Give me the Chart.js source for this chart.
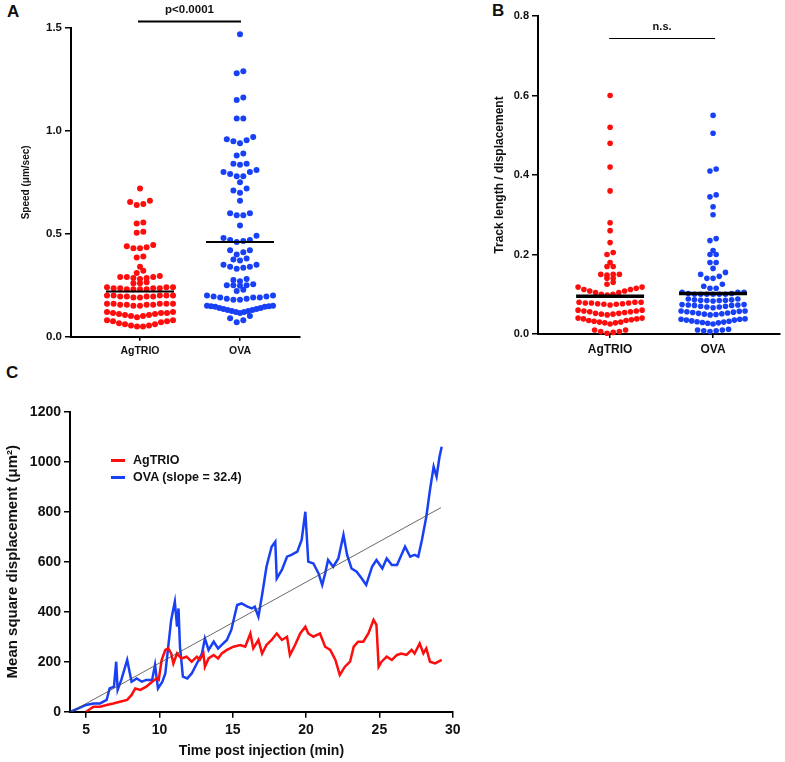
<!DOCTYPE html>
<html>
<head>
<meta charset="utf-8">
<script src="https://cdn.jsdelivr.net/npm/chart.js@4.4.1/dist/chart.umd.min.js"></script>
<style>
  body { margin: 0; background: #fff; width: 785px; height: 762px; position: relative; overflow: hidden;
         font-family: 'Liberation Sans', Arial, sans-serif; }
  canvas { position: absolute; }
  .lbl { position: absolute; font-weight: bold; color: #111; line-height: 1; white-space: nowrap; }
  .swatch { position: absolute; height: 3px; width: 14px; }
</style>
</head>
<body>
<div class="lbl" style="left:7px;top:3px;font-size:17px">A</div>
<div class="lbl" style="left:492px;top:2px;font-size:17px">B</div>
<div class="lbl" style="left:6px;top:364px;font-size:17px">C</div>

<canvas id="chartA" width="310" height="365" style="left:0;top:0"></canvas>
<canvas id="chartB" width="305" height="365" style="left:480px;top:0"></canvas>
<canvas id="chartC" width="470" height="397" style="left:0;top:365px"></canvas>

<div class="swatch" style="left:111px;top:459px;background:rgb(255,12,12)"></div>
<div class="lbl" style="left:133px;top:454px;font-size:12.5px">AgTRIO</div>
<div class="swatch" style="left:111px;top:476px;background:rgb(24,64,245)"></div>
<div class="lbl" style="left:133px;top:471px;font-size:12.5px">OVA (slope = 32.4)</div>

<script>
// Global variables
var FONT = "'Liberation Sans', Arial, sans-serif";
var RED = 'rgb(255,12,12)';
var BLUE = 'rgb(24,64,245)';

var groups = ['AgTRIO', 'OVA'];

// Panel A: speed (um/sec)
var speedAgTRIO = [
  0.72,
  0.66, 0.655, 0.645, 0.64,
  0.555, 0.55, 0.51, 0.505,
  0.445, 0.44, 0.435, 0.43, 0.43,
  0.39, 0.385,
  0.34,
  0.32, 0.31,
  0.295, 0.29, 0.29, 0.29, 0.285, 0.285, 0.28,
  0.265, 0.26, 0.26,
  0.24, 0.24, 0.235, 0.235, 0.235, 0.23, 0.23, 0.23, 0.23, 0.235, 0.24,
  0.2, 0.2, 0.2, 0.195, 0.195, 0.195, 0.19, 0.19, 0.195, 0.2, 0.2,
  0.16, 0.16, 0.16, 0.155, 0.155, 0.15, 0.15, 0.155, 0.155, 0.16, 0.16,
  0.12, 0.12, 0.115, 0.115, 0.11, 0.105, 0.1, 0.095, 0.1, 0.105, 0.11, 0.115,
  0.08, 0.08, 0.075, 0.075, 0.07, 0.065, 0.06, 0.055, 0.05, 0.05, 0.055, 0.06
];
var speedOVA = [
  1.47,
  1.29, 1.28,
  1.162, 1.15,
  1.06, 1.06,
  0.97, 0.96, 0.955, 0.95, 0.94,
  0.89, 0.88,
  0.84, 0.84, 0.835,
  0.81, 0.8, 0.8, 0.79, 0.78, 0.78,
  0.75,
  0.72, 0.71, 0.70,
  0.66,
  0.60, 0.60, 0.59, 0.59,
  0.54,
  0.49, 0.48, 0.47, 0.47, 0.465, 0.46,
  0.42, 0.42, 0.41, 0.40,
  0.38, 0.375, 0.37,
  0.35, 0.35, 0.34, 0.34, 0.335, 0.33,
  0.28, 0.275, 0.27,
  0.255, 0.25, 0.25, 0.25, 0.248,
  0.228, 0.222,
  0.2, 0.2, 0.195, 0.19, 0.19, 0.185, 0.185, 0.18, 0.18, 0.19, 0.195,
  0.15, 0.15, 0.148, 0.148, 0.145, 0.145, 0.14, 0.14, 0.135, 0.135, 0.13, 0.13, 0.125, 0.125, 0.12, 0.12, 0.115,
  0.1, 0.09, 0.08, 0.07
];
var speedMeans = [0.22, 0.46];
var speedTicks = [0, 0.5, 1.0, 1.5];

// Panel B: track length / displacement
var ratioAgTRIO = [
  0.60, 0.52, 0.48, 0.42, 0.36, 0.28, 0.26, 0.23, 0.205, 0.20,
  0.18, 0.17, 0.17,
  0.15, 0.15, 0.15, 0.148, 0.14, 0.14, 0.13, 0.125,
  0.118, 0.118, 0.115, 0.112, 0.108, 0.104, 0.1, 0.098, 0.1, 0.104, 0.108, 0.112,
  0.08, 0.078, 0.078, 0.076, 0.075, 0.073, 0.075, 0.076, 0.078, 0.08, 0.08,
  0.06, 0.06, 0.058, 0.056, 0.054, 0.052, 0.05, 0.048, 0.05, 0.052, 0.056, 0.058,
  0.04, 0.04, 0.038, 0.036, 0.034, 0.032, 0.03, 0.028, 0.025, 0.028, 0.03, 0.034, 0.038,
  0.01, 0.006, 0.004, 0.002, 0.006, 0.01
];
var ratioOVA = [
  0.55, 0.505, 0.415, 0.41, 0.35, 0.345, 0.32, 0.30, 0.24, 0.235,
  0.21, 0.2, 0.2, 0.18, 0.18,
  0.165, 0.155, 0.15, 0.145, 0.14, 0.14,
  0.125, 0.12, 0.115, 0.115,
  0.105, 0.105, 0.102, 0.1, 0.1, 0.1, 0.1, 0.1, 0.1, 0.102, 0.105,
  0.088, 0.086, 0.085, 0.084, 0.083, 0.084, 0.085, 0.086, 0.088,
  0.074, 0.073, 0.072, 0.07, 0.068, 0.066, 0.068, 0.07, 0.072, 0.073, 0.074,
  0.058, 0.057, 0.055, 0.053, 0.051, 0.049, 0.048, 0.05, 0.052, 0.054, 0.056, 0.058,
  0.038, 0.037, 0.035, 0.033, 0.031, 0.029, 0.027, 0.025, 0.028, 0.03, 0.032, 0.035, 0.037,
  0.012, 0.01, 0.008, 0.006, 0.008, 0.01
];
var ratioMeans = [0.095, 0.102];
var ratioTicks = [0, 0.2, 0.4, 0.6, 0.8];

// Panel C: mean square displacement over time
var timeAgTRIO = [5, 5.5, 5.95, 6.4, 6.85, 7.3, 7.8, 8.1, 8.35, 8.7, 9.1, 9.5, 9.8, 9.95, 10.15, 10.4, 10.6, 10.8,
  10.95, 11.2, 11.5, 11.85, 12.2, 12.55, 12.75, 13.0, 13.1, 13.35, 13.7, 14.0, 14.25, 14.6, 15.05, 15.5, 15.85,
  16.2, 16.4, 16.75, 17.0, 17.3, 17.65, 18.0, 18.35, 18.7, 18.9, 19.25, 19.6, 19.95, 20.15, 20.5, 20.95, 21.3,
  21.65, 22.0, 22.3, 22.65, 23.0, 23.25, 23.55, 23.9, 24.25, 24.6, 24.8, 24.95, 25.15, 25.5, 25.85, 26.2, 26.5,
  26.85, 27.2, 27.4, 27.75, 28.0, 28.2, 28.45, 28.8, 29.25];
var msdAgTRIO = [0, 20, 20, 27, 33, 40, 47, 67, 93, 87, 100, 120, 133, 127, 207, 247, 253, 233,
  193, 233, 213, 220, 200, 220, 207, 233, 180, 213, 227, 213, 233, 247, 260, 267, 260,
  313, 253, 287, 233, 267, 287, 313, 287, 300, 227, 267, 313, 340, 313, 300, 313, 260,
  247, 207, 147, 180, 200, 260, 280, 280, 313, 367, 347, 180, 200, 220, 207, 227, 233,
  227, 247, 233, 273, 233, 253, 200, 193, 207];
var timeOVA = [3.95, 5, 5.5, 5.95, 6.4, 6.6, 6.9, 7.05, 7.15, 7.4, 7.8, 8.1, 8.45, 8.8, 9.1, 9.5, 9.7, 9.9,
  10.2, 10.4, 10.6, 10.8, 11.05, 11.2, 11.3, 11.4, 11.6, 11.9, 12.2, 12.55, 12.9, 13.1, 13.35, 13.7, 14.0,
  14.25, 14.6, 14.9, 15.3, 15.6, 16.0, 16.3, 16.5, 16.75, 17.0, 17.3, 17.65, 17.9, 18.0, 18.35, 18.7, 19.0,
  19.4, 19.7, 19.95, 20.15, 20.5, 20.85, 21.1, 21.3, 21.5, 21.85, 22.2, 22.55, 22.8, 23.1, 23.45, 23.8, 24.1,
  24.5, 24.8, 25.2, 25.5, 25.85, 26.2, 26.5, 26.75, 27.1, 27.4, 27.65, 27.9, 28.2, 28.45, 28.7, 28.9, 29.1, 29.25];
var msdOVA = [0, 27, 33, 33, 47, 93, 100, 200, 87, 127, 207, 120, 133, 120, 127, 127, 187, 93,
  120, 153, 260, 367, 440, 340, 413, 260, 140, 133, 153, 193, 233, 293, 247, 280, 253,
  267, 287, 327, 427, 433, 420, 413, 420, 380, 467, 580, 660, 680, 533, 567, 620, 627,
  640, 687, 800, 600, 593, 553, 507, 553, 607, 580, 613, 707, 627, 573, 560, 533, 507,
  580, 607, 573, 613, 587, 587, 627, 660, 620, 627, 620, 687, 780, 887, 980, 940, 1020, 1060];
var ovaSlope = 32.4;
var fitStart = 4;
var fitEnd = 29.2;
var timeTicks = [5, 10, 15, 20, 25, 30];
var msdTicks = [0, 200, 400, 600, 800, 1000, 1200];


Chart.defaults.font.family = FONT;
Chart.defaults.color = '#111';

// scatter-dot layout: values close together form a row, spread sideways,
// lowest value of the row in the middle (gives the V shape)
function swarm(values, center, lay) {
  var sorted = values.slice().sort(function(a, b) { return a - b; });
  var rows = [];
  sorted.forEach(function(v, i) {
    if (i === 0 || (v - sorted[i - 1]) * lay.pxPerY > lay.gapPx) rows.push([]);
    rows[rows.length - 1].push(v);
  });
  var pts = [];
  rows.forEach(function(row) {
    var n = row.length;
    var step = n > 1 ? Math.min(lay.step, lay.maxWidth / (n - 1)) : 0;
    var offs = [];
    for (var i = 0; i < n; i++) offs.push((i - (n - 1) / 2) * step);
    offs.sort(function(a, b) { return Math.abs(a) - Math.abs(b) || a - b; });
    row.forEach(function(v, i) {
      pts.push({x: center + offs[i] / lay.pxPerX, y: v});
    });
  });
  return pts;
}

function meanLine(center, mean, half) {
  return [{x: center - half, y: mean}, {x: center + half, y: mean}];
}

// bracket + significance text above the two groups
var bracketPlugin = {
  id: 'bracket',
  afterDraw: function(chart, args, opts) {
    if (!opts.text) return;
    var ctx = chart.ctx;
    var xs = chart.scales.x;
    var x1 = xs.getPixelForValue(1) + opts.shift[0];
    var x2 = xs.getPixelForValue(2) + opts.shift[1];
    ctx.save();
    ctx.strokeStyle = '#000';
    ctx.lineWidth = opts.lineWidth;
    ctx.beginPath();
    ctx.moveTo(x1, opts.y);
    ctx.lineTo(x2, opts.y);
    ctx.stroke();
    ctx.fillStyle = '#111';
    ctx.font = 'bold ' + opts.size + 'px ' + FONT;
    ctx.textAlign = 'center';
    ctx.textBaseline = 'middle';
    ctx.fillText(opts.text, (x1 + x2) / 2, opts.textY);
    ctx.restore();
  }
};
Chart.register(bracketPlugin);

function axis(size, tickLen) {
  return {
    grid: {display: true, drawOnChartArea: false, drawTicks: true, tickLength: tickLen, color: '#000', lineWidth: 1.5},
    border: {display: true, color: '#000', width: 2},
    ticks: {color: '#111', font: {weight: 'bold', size: size}, padding: 3, autoSkip: false, maxRotation: 0}
  };
}

function swarmChart(id, p) {
  var xAxis = axis(p.catSize, 4);
  xAxis.type = 'linear';
  xAxis.min = p.xmin;
  xAxis.max = p.xmax;
  xAxis.ticks.padding = 4;
  xAxis.ticks.callback = function(v) { return groups[v - 1]; };
  xAxis.afterBuildTicks = function(s) { s.ticks = groups.map(function(g, i) { return {value: i + 1}; }); };
  xAxis.afterFit = function(s) { s.height = p.xHeight; };

  var yAxis = axis(p.tickSize, 6);
  yAxis.min = 0;
  yAxis.max = p.ticks[p.ticks.length - 1];
  yAxis.ticks.callback = function(v) { return Number(v).toFixed(1); };
  yAxis.afterBuildTicks = function(s) { s.ticks = p.ticks.map(function(v) { return {value: v}; }); };
  yAxis.afterFit = function(s) { s.width = p.yWidth; };
  yAxis.title = {display: true, text: p.yTitle, font: {weight: 'bold', size: p.titleSize}, color: '#111', padding: 0};

  return new Chart(document.getElementById(id), {
    type: 'scatter',
    data: {
      datasets: [{
        data: meanLine(1, p.means[0], p.half),
        showLine: true, borderColor: '#000', borderWidth: p.meanWidth, pointRadius: 0, clip: false
      }, {
        data: meanLine(2, p.means[1], p.half),
        showLine: true, borderColor: '#000', borderWidth: p.meanWidth, pointRadius: 0, clip: false
      }, {
        data: swarm(p.a, 1, p.lay),
        backgroundColor: RED, borderWidth: 0, pointRadius: p.dot, clip: false
      }, {
        data: swarm(p.b, 2, p.lay),
        backgroundColor: BLUE, borderWidth: 0, pointRadius: p.dot, clip: false
      }]
    },
    options: {
      responsive: false,
      animation: false,
      layout: {padding: p.padding},
      plugins: {legend: {display: false}, tooltip: {enabled: false}, bracket: p.bracket},
      scales: {x: xAxis, y: yAxis}
    }
  });
}

swarmChart('chartA', {
  a: speedAgTRIO, b: speedOVA, means: speedMeans, ticks: speedTicks,
  yTitle: 'Speed (\u03bcm/sec)', titleSize: 10, tickSize: 11.5, catSize: 10.5,
  xmin: 0.31, xmax: 2.6, xHeight: 28.3, yWidth: 51,
  padding: {left: 20, top: 28, right: 10, bottom: 0},
  lay: {pxPerY: 205.3, pxPerX: 100, gapPx: 2.8, step: 6.6, maxWidth: 66},
  dot: 3, half: 0.34, meanWidth: 2,
  bracket: {text: 'p<0.0001', y: 21.5, textY: 10, size: 11.5, lineWidth: 2, shift: [-2, 1]}
});

swarmChart('chartB', {
  a: ratioAgTRIO, b: ratioOVA, means: ratioMeans, ticks: ratioTicks,
  yTitle: 'Track length / displacement', titleSize: 12, tickSize: 11, catSize: 12,
  xmin: 0.30, xmax: 2.65, xHeight: 31, yWidth: 46,
  padding: {left: 12, top: 16, right: 5, bottom: 0},
  lay: {pxPerY: 397.5, pxPerX: 103, gapPx: 2.5, step: 6.2, maxWidth: 64},
  dot: 2.8, half: 0.33, meanWidth: 3.5,
  bracket: {text: 'n.s.', y: 38.5, textY: 27, size: 11, lineWidth: 1, shift: [-1, 2]}
});

// Panel C
function pairs(xs, ys) {
  return xs.map(function(x, i) { return {x: x, y: ys[i]}; });
}

var cx = axis(14, 6);
cx.type = 'linear';
cx.min = 3.9;
cx.max = 30;
cx.ticks.padding = 4;
cx.afterBuildTicks = function(s) { s.ticks = timeTicks.map(function(v) { return {value: v}; }); };
cx.afterFit = function(s) { s.height = 50.3; };
cx.title = {display: true, text: 'Time post injection (min)', font: {weight: 'bold', size: 14}, color: '#111', padding: {top: 0, bottom: 2}};

var cy = axis(14, 6);
cy.min = 0;
cy.max = 1200;
cy.ticks.callback = function(v) { return String(v); };
cy.afterBuildTicks = function(s) { s.ticks = msdTicks.map(function(v) { return {value: v}; }); };
cy.afterFit = function(s) { s.width = 66; };
cy.title = {display: true, text: 'Mean square displacement (\u03bcm\u00b2)', font: {weight: 'bold', size: 15}, color: '#111', padding: 0};

new Chart(document.getElementById('chartC'), {
  type: 'scatter',
  data: {
    datasets: [{
      label: 'fit',
      data: [{x: fitStart, y: 0}, {x: fitEnd, y: ovaSlope * (fitEnd - fitStart)}],
      showLine: true, borderColor: '#444', borderWidth: 0.8, pointRadius: 0
    }, {
      label: 'AgTRIO',
      data: pairs(timeAgTRIO, msdAgTRIO),
      showLine: true, borderColor: RED, borderWidth: 2.5, pointRadius: 0, tension: 0
    }, {
      label: 'OVA (slope = 32.4)',
      data: pairs(timeOVA, msdOVA),
      showLine: true, borderColor: BLUE, borderWidth: 2.5, pointRadius: 0, tension: 0
    }]
  },
  options: {
    responsive: false,
    animation: false,
    layout: {padding: {left: 4, top: 46.7, right: 17.3, bottom: 0}},
    plugins: {legend: {display: false}, tooltip: {enabled: false}},
    scales: {x: cx, y: cy}
  }
});
</script>
</body>
</html>
